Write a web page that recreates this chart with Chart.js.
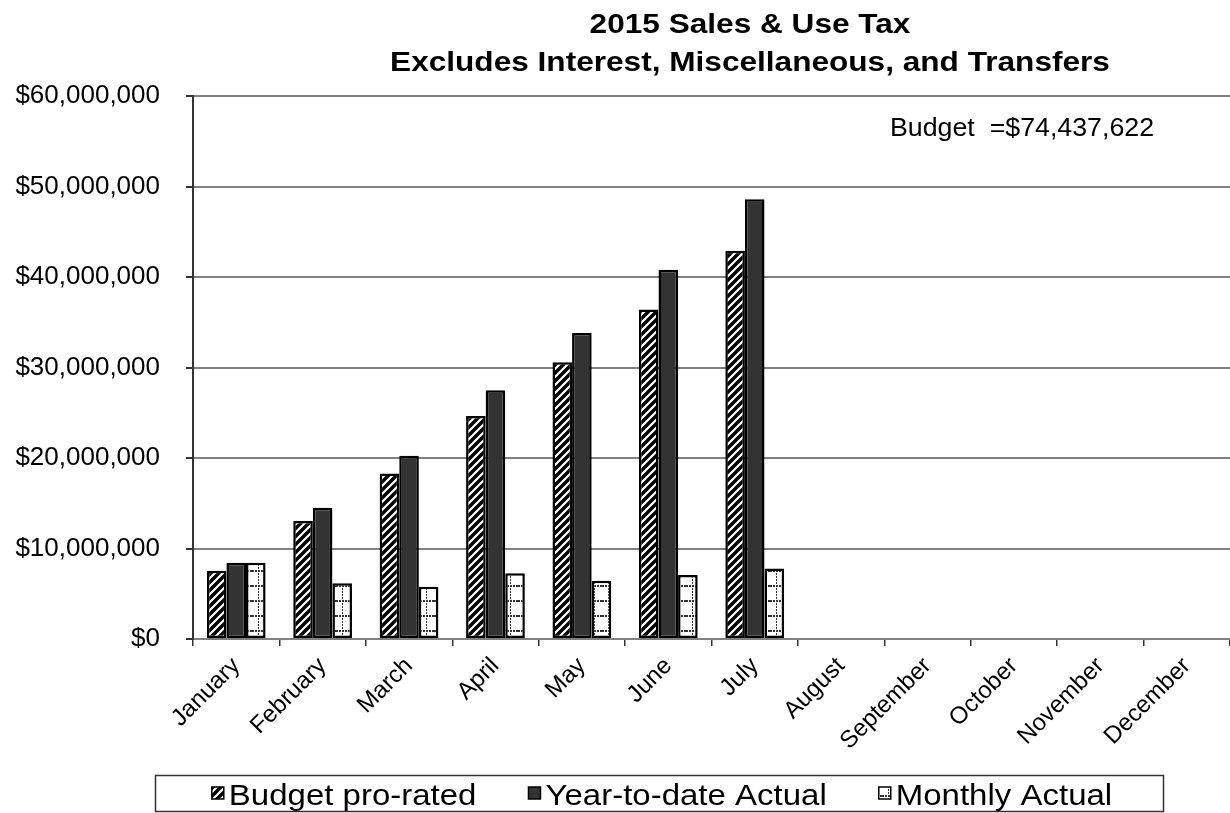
<!DOCTYPE html>
<html>
<head>
<meta charset="utf-8">
<script src="https://cdn.jsdelivr.net/npm/chart.js@4"></script>
<style>
  body { margin: 0; background: #fff; }
</style>
</head>
<body>
<canvas id="tax-chart" width="1230" height="813"></canvas>
<script>
const months = ["January", "February", "March", "April", "May", "June", "July",
    "August", "September", "October", "November", "December"];
const budgetProRated = [7550000, 13040000, 18300000, 24640000, 30570000, 36400000, 42900000,
    null, null, null, null, null];
const ytdActual = [8430000, 14500000, 20250000, 27500000, 33800000, 40800000, 48600000,
    null, null, null, null, null];
const monthlyActual = [8430000, 6150000, 5780000, 7260000, 6440000, 7070000, 7800000,
    null, null, null, null, null];
const titleLines = ["2015 Sales & Use Tax", "Excludes Interest, Miscellaneous, and Transfers"];
const budgetNote = "Budget  =$74,437,622";

const FONT = "'Liberation Sans', Arial, sans-serif";

// diagonal hatch for the pro-rated budget
function hatchPattern() {
    const c = document.createElement("canvas");
    c.width = 8;
    c.height = 8;
    const g = c.getContext("2d");
    g.fillStyle = "#fff";
    g.fillRect(0, 0, 8, 8);
    g.strokeStyle = "#000";
    g.lineWidth = 3.4;
    g.beginPath();
    g.moveTo(-2, 10); g.lineTo(10, -2);
    g.moveTo(-6, 6); g.lineTo(6, -6);
    g.moveTo(2, 14); g.lineTo(14, 2);
    g.stroke();
    return g.createPattern(c, "repeat");
}

// white with dotted grid for monthly actual
function dotPattern() {
    const c = document.createElement("canvas");
    c.width = 14;
    c.height = 15;
    const g = c.getContext("2d");
    g.fillStyle = "#fff";
    g.fillRect(0, 0, 14, 15);
    g.fillStyle = "#333";
    for (let x = 0; x < 14; x += 3) g.fillRect(x, 0, 2, 2);
    for (let y = 0; y < 15; y += 3) g.fillRect(6, y, 1, 2);
    return g.createPattern(c, "repeat");
}

const hatch = hatchPattern();
const dots = dotPattern();

const textPlugin = {
    id: "textPlugin",
    afterDraw(chart) {
        const ctx = chart.ctx;
        ctx.save();
        ctx.fillStyle = "#000";
        ctx.textBaseline = "alphabetic";
        ctx.textAlign = "center";

        // title, a bit wide like the original
        ctx.font = "bold 27px " + FONT;
        [[titleLines[0], 33], [titleLines[1], 71]].forEach(([t, y]) => {
            ctx.save();
            ctx.translate(750, y);
            ctx.scale(1.17, 1);
            ctx.fillText(t, 0, 0);
            ctx.restore();
        });

        // budget note
        ctx.textAlign = "left";
        ctx.font = "25px " + FONT;
        ctx.save();
        ctx.translate(890, 136);
        ctx.scale(1.07, 1);
        ctx.fillText(budgetNote, 0, 0);
        ctx.restore();

        // legend
        const sx = 1.1;
        ctx.font = "30px " + FONT;
        const items = chart.data.datasets.map(ds => ({
            label: ds.label,
            fill: ds.backgroundColor,
            w: ctx.measureText(ds.label).width * sx,
        }));
        const box = 12, gapIn = 5, gapOut = 52;
        let total = 0;
        items.forEach((it, i) => {
            total += box + gapIn + it.w + (i < items.length - 1 ? gapOut : 0);
        });
        let x = 662 - total / 2;
        items.forEach(it => {
            ctx.fillStyle = it.fill;
            ctx.fillRect(x, 787, box, box);
            ctx.strokeStyle = "#000";
            ctx.lineWidth = 1.5;
            ctx.strokeRect(x, 787, box, box);
            ctx.fillStyle = "#000";
            ctx.save();
            ctx.translate(x + box + gapIn, 805);
            ctx.scale(sx, 1);
            ctx.fillText(it.label, 0, 0);
            ctx.restore();
            x += box + gapIn + it.w + gapOut;
        });
        ctx.strokeStyle = "#333";
        ctx.lineWidth = 1.5;
        ctx.strokeRect(155.5, 775.5, 1008, 36);
        ctx.restore();
    },
};

new Chart(document.getElementById("tax-chart"), {
    type: "bar",
    data: {
        labels: months,
        datasets: [
            { label: "Budget pro-rated", data: budgetProRated, backgroundColor: hatch },
            { label: "Year-to-date Actual", data: ytdActual, backgroundColor: "#333333" },
            { label: "Monthly Actual", data: monthlyActual, backgroundColor: dots },
        ],
    },
    options: {
        responsive: false,
        animation: false,
        layout: { padding: { top: 96, left: 0, right: 0, bottom: 0 } },
        datasets: {
            bar: {
                borderColor: "#000",
                borderWidth: 2.5,
                borderSkipped: false,
                categoryPercentage: 0.68,
                barPercentage: 1,
            },
        },
        plugins: {
            legend: { display: false },
            title: { display: false },
            tooltip: { enabled: false },
        },
        scales: {
            x: {
                afterFit: s => { s.height = 174; },
                grid: {
                    drawOnChartArea: false,
                    drawTicks: true,
                    tickLength: 7,
                    tickColor: "#333",
                    lineWidth: 1.5,
                },
                border: { color: "#808080", width: 2 },
                ticks: {
                    autoSkip: false,
                    minRotation: 45,
                    maxRotation: 45,
                    padding: 6,
                    color: "#000",
                    font: { family: FONT, size: 24 },
                },
            },
            y: {
                min: 0,
                max: 60000000,
                afterFit: s => { s.width = 193; },
                grid: {
                    color: "#808080",
                    lineWidth: 2,
                    tickColor: "#333",
                    tickLength: 7,
                },
                border: { color: "#333", width: 2 },
                ticks: {
                    stepSize: 10000000,
                    padding: 26,
                    color: "#000",
                    font: { family: FONT, size: 26 },
                    callback: v => "$" + Number(v).toLocaleString("en-US"),
                },
            },
        },
    },
    plugins: [textPlugin],
});
</script>
</body>
</html>
